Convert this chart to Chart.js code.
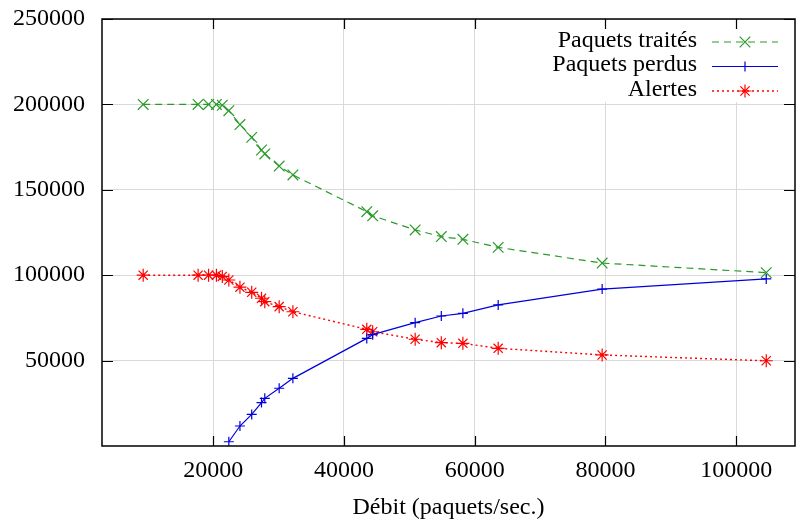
<!DOCTYPE html>
<html>
<head>
<meta charset="utf-8">
<script src="https://cdn.jsdelivr.net/npm/chart.js@4"></script>
<style>
  html, body { margin: 0; padding: 0; background: #fff; }
  #wrap { width: 797px; height: 523px; position: relative; }
</style>
</head>
<body>
<div id="wrap"><canvas id="chart"></canvas></div>
<script>
// Débit (paquets/sec.) for every measurement
const debit = [9300, 17700, 19300, 20500, 21400, 22400, 24100, 25900, 27400, 27900,
               30100, 32200, 43500, 44400, 50900, 54900, 58200, 63600, 79500, 104600];

const traites = [200000, 200000, 200000, 200000, 199500, 196300, 188200, 180700, 173300, 171000,
                 163900, 158700, 137200, 134800, 126500, 122600, 121000, 116300, 107100, 101500];

const perdus = [null, null, null, null, null, 2500, 11700, 18500, 25400, 27900,
                33800, 39600, 63000, 65200, 72200, 76100, 77700, 82600, 91900, 97800];

const alertes = [100000, 100000, 100000, 100000, 99300, 97200, 93000, 90000, 86500, 84500,
                 81600, 78600, 68300, 66900, 62500, 60500, 60100, 57200, 53300, 49900];

const xTicks = [20000, 40000, 60000, 80000, 100000];
const yTicks = [50000, 100000, 150000, 200000, 250000];

const FONT = { family: '"Liberation Serif", "DejaVu Serif", serif', size: 24 };
const GREEN = '#2a9a2a';
const BLUE = '#0000dd';
const RED = '#ff0000';

function pairs(ys) {
    return debit.map((x, i) => ({ x: x, y: ys[i] }));
}

// frame, inward ticks and the key (text left of the sample, like gnuplot)
const framePlugin = {
    id: 'frame',
    afterDatasetsDraw(chart) {
        const { ctx, chartArea: a, scales: { x, y } } = chart;
        ctx.save();

        // opaque key area
        ctx.fillStyle = '#fff';
        ctx.fillRect(522, a.top + 1, a.right - 523, 82);

        const keyRows = [0, 1, 2].map(i => a.top + 23 + i * 24.5);
        chart.data.datasets.forEach((ds, i) => {
            const ly = keyRows[i];
            ctx.fillStyle = '#000';
            ctx.font = FONT.size + 'px ' + FONT.family;
            ctx.textAlign = 'right';
            ctx.textBaseline = 'alphabetic';
            ctx.fillText(ds.label, 697, ly + 4.5);

            ctx.strokeStyle = ds.borderColor;
            ctx.lineWidth = ds.borderWidth;
            ctx.setLineDash(ds.borderDash || []);
            ctx.beginPath();
            ctx.moveTo(712, ly);
            ctx.lineTo(778, ly);
            ctx.stroke();
            ctx.setLineDash([]);
            ctx.lineWidth = ds.pointBorderWidth;
            Chart.helpers.drawPoint(ctx, {
                pointStyle: ds.pointStyle,
                radius: ds.pointRadius,
                rotation: 0,
                borderWidth: ds.pointBorderWidth
            }, 745, ly);
        });

        // frame
        ctx.strokeStyle = '#000';
        ctx.lineWidth = 1.5;
        ctx.strokeRect(a.left, a.top, a.right - a.left, a.bottom - a.top);

        // inward tick marks on all four sides
        ctx.lineWidth = 1.2;
        ctx.beginPath();
        xTicks.forEach(v => {
            const px = Math.round(x.getPixelForValue(v)) + 0.5;
            ctx.moveTo(px, a.bottom); ctx.lineTo(px, a.bottom - 10);
            ctx.moveTo(px, a.top); ctx.lineTo(px, a.top + 10);
        });
        yTicks.forEach(v => {
            const py = Math.round(y.getPixelForValue(v)) + 0.5;
            ctx.moveTo(a.left, py); ctx.lineTo(a.left + 11, py);
            ctx.moveTo(a.right, py); ctx.lineTo(a.right - 11, py);
        });
        ctx.stroke();
        ctx.restore();
    }
};

const ctx = document.getElementById('chart').getContext('2d');
new Chart(ctx, {
    type: 'line',
    data: {
        datasets: [{
            label: 'Paquets traités',
            data: pairs(traites),
            borderColor: GREEN,
            borderWidth: 1.2,
            borderDash: [7, 5],
            pointStyle: 'crossRot',
            pointRadius: 7.5,
            pointBorderWidth: 1.2,
            pointBorderColor: GREEN,
            tension: 0
        }, {
            label: 'Paquets perdus',
            data: pairs(perdus),
            borderColor: BLUE,
            borderWidth: 1.2,
            pointStyle: 'cross',
            pointRadius: 5,
            pointBorderWidth: 1.2,
            pointBorderColor: BLUE,
            tension: 0
        }, {
            label: 'Alertes',
            data: pairs(alertes),
            borderColor: RED,
            borderWidth: 1.4,
            borderDash: [2, 3],
            pointStyle: 'star',
            pointRadius: 6.5,
            pointBorderWidth: 1.2,
            pointBorderColor: RED,
            tension: 0
        }]
    },
    options: {
        responsive: true,
        maintainAspectRatio: false,
        animation: false,
        layout: {
            autoPadding: false,
            padding: { top: 19, right: 2, left: 0, bottom: 0 }
        },
        plugins: {
            legend: { display: false },
            tooltip: { enabled: false }
        },
        scales: {
            x: {
                type: 'linear',
                min: 3000,
                max: 109000,
                afterBuildTicks: s => { s.ticks = xTicks.map(v => ({ value: v })); },
                afterFit: s => {
                    s.height = 77;
                    s.paddingLeft = 0;
                    s.paddingRight = 0;
                },
                ticks: {
                    font: FONT,
                    color: '#000',
                    padding: 10,
                    maxRotation: 0,
                    callback: v => String(v)
                },
                grid: { color: '#d9d9d9', lineWidth: 1, drawTicks: false },
                border: { display: false },
                title: {
                    display: true,
                    text: 'Débit (paquets/sec.)',
                    font: FONT,
                    color: '#000',
                    padding: { top: 0, bottom: 1 }
                }
            },
            y: {
                min: 0,
                max: 250000,
                afterBuildTicks: s => { s.ticks = yTicks.map(v => ({ value: v })); },
                afterFit: s => {
                    s.width = 102;
                    s.paddingTop = 0;
                    s.paddingBottom = 0;
                },
                ticks: {
                    font: FONT,
                    color: '#000',
                    padding: 17,
                    callback: v => String(v)
                },
                grid: { color: '#d9d9d9', lineWidth: 1, drawTicks: false },
                border: { display: false }
            }
        }
    },
    plugins: [framePlugin]
});
</script>
</body>
</html>
